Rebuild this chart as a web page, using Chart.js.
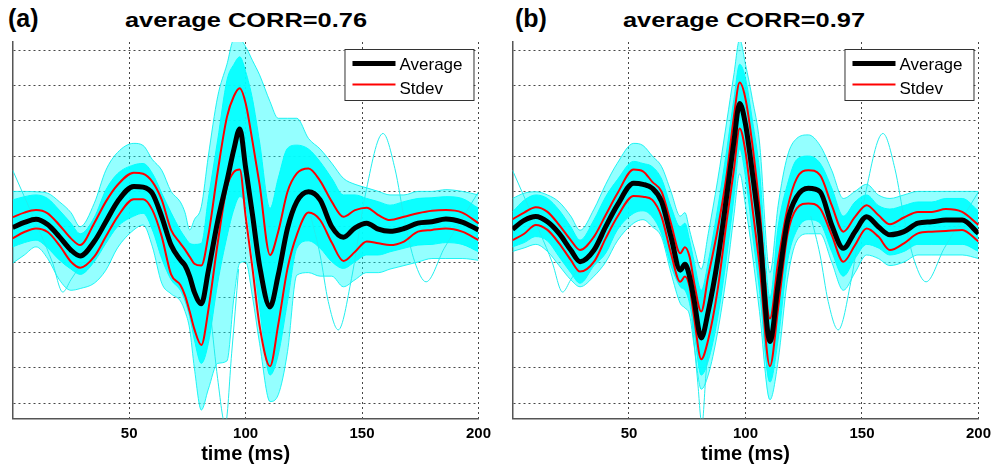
<!DOCTYPE html>
<html>
<head>
<meta charset="utf-8">
<script src="https://cdn.jsdelivr.net/npm/chart.js@4.4.0/dist/chart.umd.min.js"></script>
<style>
  body { margin:0; background:#fff; width:997px; height:468px; overflow:hidden; position:relative;
         font-family: Arial, "Liberation Sans", sans-serif; }
  .panel { position:absolute; top:0; }
  .tag { position:absolute; top:6px; font-size:25px; font-weight:bold; line-height:1; }
  .ttl { position:absolute; top:10px; width:300px; text-align:center; font-size:20px; font-weight:bold;
         line-height:1; white-space:nowrap; transform:scaleX(1.27); transform-origin:center; }
</style>
</head>
<body>
<div class="tag" style="left:8px">(a)</div>
<div class="ttl" style="left:96px">average CORR=0.76</div>
<div class="tag" style="left:515px">(b)</div>
<div class="ttl" style="left:594px">average CORR=0.97</div>
<canvas id="chartA" class="panel" style="left:0" width="497" height="468"></canvas>
<canvas id="chartB" class="panel" style="left:497px" width="500" height="468"></canvas>
<script>
// --- time axis (ms), shared by both panels ---
const timeMs = [0,5,10,15,20,25,29,35,40,45,52,56,60,64,68,72,74,76,78,81,84,88,92,95,97.5,100,103,106,110.5,114,118,122,127,132,137,142,147,152,157,162,168,174,180,186,193,200];
const xTicks = [50, 100, 150, 200];

// --- panel (a) ---
const avgA   = [-0.02,0.12,0.21,0.06,-0.28,-0.66,-0.83,-0.42,0.14,0.71,1.14,1.12,0.94,0.28,-0.52,-0.94,-1.1,-1.41,-1.85,-2.18,-1.25,0.15,1.3,2.2,2.77,1.68,0.32,-1.1,-2.27,-1.37,-0.05,0.71,0.99,0.76,0.0,-0.3,-0.03,0.1,-0.07,-0.13,-0.05,0.1,0.14,0.22,0.13,-0.09];
const stdHiA = [0.27,0.4,0.47,0.38,0.05,-0.33,-0.52,0.1,0.71,1.18,1.53,1.5,1.27,0.76,-0.09,-0.47,-0.65,-0.85,-1.05,-1.1,-0.25,1.55,3.11,3.7,3.92,3.5,2.4,1.2,-0.8,-0.14,0.99,1.51,1.65,1.3,0.71,0.28,0.47,0.54,0.33,0.19,0.28,0.38,0.45,0.47,0.4,0.1];
const stdLoA = [-0.33,-0.15,-0.05,-0.15,-0.52,-0.99,-1.16,-0.85,-0.28,0.28,0.78,0.78,0.47,-0.28,-1.35,-1.65,-1.95,-2.4,-2.9,-3.35,-2.36,-0.47,1.13,1.55,1.62,0.3,-1.2,-2.8,-3.95,-2.78,-1.18,-0.23,0.4,0.19,-0.45,-0.97,-0.71,-0.42,-0.47,-0.52,-0.42,-0.14,-0.09,-0.05,-0.14,-0.38];
const denseHiA = [0.76,0.85,0.9,0.8,0.47,0.1,-0.2,0.26,1.04,1.5,1.75,1.79,1.51,0.95,0.4,-0.1,-0.3,-0.47,-0.5,-0.47,0.8,2.45,4.15,4.6,4.81,4.4,3.6,2.4,0.52,1.37,2.22,2.31,2.2,1.84,1.37,0.9,0.9,0.8,0.71,0.61,0.71,0.8,0.82,0.85,0.8,0.52];
const denseLoA = [-0.57,-0.45,-0.38,-0.6,-0.94,-1.2,-1.35,-0.99,-0.47,0.0,0.3,0.38,-0.09,-0.9,-1.5,-1.8,-2.1,-2.55,-3.2,-3.87,-3.3,-1.6,-0.28,0.5,0.85,0.6,-0.8,-2.3,-4.2,-3.63,-2.12,-0.61,-0.4,-0.61,-0.99,-1.18,-0.99,-0.8,-0.8,-0.71,-0.61,-0.52,-0.5,-0.45,-0.5,-0.71];
const outerHiA = [1.0,1.0,0.99,0.95,0.71,0.4,0.0,0.66,1.6,2.1,2.36,2.3,1.9,1.6,1.0,0.7,0.4,-0.09,0.2,0.57,2.0,3.68,4.6,5.3,5.3,5.1,4.7,4.3,3.54,3.07,3.07,3.07,2.5,2.2,1.8,1.37,1.2,1.1,1.0,0.9,0.9,1.0,1.0,1.05,1.0,0.9];
const outerLoA = [-1.03,-0.8,-0.57,-0.9,-1.5,-1.8,-1.75,-1.6,-1.23,-0.6,-0.09,0.05,-0.57,-1.6,-1.9,-2.1,-2.4,-2.9,-4.0,-5.19,-4.6,-3.87,-3.8,-2.0,-1.03,-0.99,-2.0,-3.3,-4.95,-4.76,-3.54,-1.37,-1.3,-1.4,-1.4,-1.7,-1.5,-1.3,-1.3,-1.2,-1.1,-1.0,-0.9,-0.9,-0.9,-0.95];
const dipTimesA = [85, 88, 91.3, 94, 97];
const dipA      = [-2.5, -4.3, -5.6, -3.6, -1.2];

// --- panel (b) ---
const avgB   = [-0.07,0.18,0.29,0.14,-0.19,-0.66,-0.99,-0.66,0.0,0.61,1.23,1.2,1.09,0.71,-0.28,-1.23,-1.06,-1.41,-2.1,-3.15,-2.4,-0.97,0.9,2.4,3.49,2.9,1.5,-0.1,-3.25,-1.65,0.14,0.85,1.09,0.99,0.05,-0.61,-0.14,0.28,0.0,-0.23,-0.14,0.1,0.14,0.19,0.19,-0.19];
const stdHiB = [0.21,0.4,0.55,0.42,0.05,-0.38,-0.66,-0.28,0.33,0.94,1.62,1.57,1.27,0.99,0.1,-0.75,-0.58,-0.85,-1.6,-2.4,-1.4,-0.1,1.5,3.1,4.08,3.62,2.3,0.55,-2.6,-0.99,0.52,1.37,1.6,1.46,0.61,-0.14,0.28,0.61,0.33,0.07,0.26,0.42,0.42,0.5,0.42,0.05];
const stdLoB = [-0.38,-0.2,0.05,-0.09,-0.47,-0.94,-1.27,-0.99,-0.33,0.28,0.87,0.85,0.76,0.28,-0.75,-1.56,-1.41,-1.7,-2.6,-3.75,-3.2,-1.8,0.2,1.6,2.78,2.12,0.52,-1.08,-3.95,-2.31,-0.23,0.52,0.66,0.52,-0.23,-0.99,-0.52,-0.05,-0.28,-0.66,-0.47,-0.19,-0.14,-0.12,-0.09,-0.42];
const denseHiB = [0.42,0.75,0.9,0.8,0.47,0.0,-0.38,0.2,0.85,1.33,1.85,1.79,1.7,1.35,0.57,0.0,0.1,-0.38,-1.0,-1.8,-1.0,0.5,2.2,3.6,4.6,4.2,3.0,1.6,-2.0,0.0,1.2,1.9,2.0,1.8,1.1,0.3,0.7,0.9,0.6,0.5,0.6,0.7,0.7,0.8,0.8,0.45];
const denseLoB = [-0.57,-0.45,-0.28,-0.4,-0.85,-1.3,-1.6,-1.1,-0.75,-0.09,0.38,0.45,0.28,-0.2,-1.1,-1.7,-1.8,-2.17,-3.0,-4.2,-3.8,-2.6,-0.8,0.8,2.2,1.4,-0.2,-1.8,-4.4,-3.2,-1.0,-0.1,0.2,0.1,-0.7,-1.4,-0.9,-0.5,-0.6,-0.8,-0.7,-0.5,-0.5,-0.5,-0.5,-0.7];
const outerHiB = [0.8,0.95,0.99,0.9,0.7,0.3,-0.1,0.5,1.2,1.8,2.36,2.3,2.0,1.7,1.0,0.3,0.4,-0.1,-0.6,-1.2,-0.2,1.3,3.0,4.3,5.3,4.6,3.6,2.4,-1.3,0.6,2.0,2.5,2.6,2.3,1.6,0.8,1.0,1.2,0.9,0.8,0.9,1.0,1.0,1.0,1.0,1.0];
const outerLoB = [-0.7,-0.6,-0.5,-0.7,-1.1,-1.5,-1.7,-1.4,-1.0,-0.4,0.1,0.2,0.0,-0.3,-1.3,-2.17,-2.3,-2.5,-3.4,-4.6,-4.2,-3.0,-1.3,0.3,1.5,0.6,-0.8,-2.4,-4.9,-3.8,-1.5,-0.4,-0.2,-0.2,-1.0,-1.8,-1.3,-0.8,-0.9,-1.1,-1.0,-0.8,-0.8,-0.8,-0.8,-0.9];
const dipTimesB = [77, 79.5, 81.3, 83, 85];
const dipB      = [-2.6, -4.4, -5.6, -4.2, -2.6];

// --- single trials that stand out (same in both panels) ---
const earlyTimes = [0, 4, 8, 12, 17, 21.5, 25, 30];
const earlyTrial = [1.6, 1.0, 0.4, -0.2, -1.0, -1.85, -1.5, -1.0];
const lateTimes  = [128, 132, 135.5, 139.8, 145.5, 151.4, 159, 164.1, 168.4, 172.6, 177.5, 185.3, 193.9, 200];
const lateTrial  = [0.3, -0.8, -2.12, -2.92, -1.46, 0.9, 2.64, 1.65, 0.14, -0.99, -1.56, -0.61, 0.33, 0.99];

Chart.defaults.font.family = 'Arial, "Liberation Sans", sans-serif';

const pts = (xs, ys) => xs.map((x, i) => ({ x: x, y: ys[i] }));

// legend box drawn in the upper right corner of the plot
const legendBox = {
  id: 'legendBox',
  afterDraw(chart) {
    const { ctx, chartArea } = chart;
    const items = chart.data.datasets.filter(d => d.inLegend);
    const w = 129, h = 51;
    const x = chartArea.right - 5 - w, y = chartArea.top + 7;
    ctx.save();
    ctx.fillStyle = '#fff';
    ctx.fillRect(x, y, w, h);
    ctx.strokeStyle = '#333';
    ctx.lineWidth = 1;
    ctx.strokeRect(x + 0.5, y + 0.5, w, h);
    items.forEach((d, i) => {
      const ly = y + 14.5 + i * 21;
      ctx.strokeStyle = d.borderColor;
      ctx.lineWidth = d.borderWidth;
      ctx.beginPath();
      ctx.moveTo(x + 8, ly);
      ctx.lineTo(x + 51, ly);
      ctx.stroke();
      ctx.fillStyle = '#000';
      ctx.font = '17px Arial, "Liberation Sans", sans-serif';
      ctx.textBaseline = 'alphabetic';
      ctx.fillText(d.label, x + 55, y + 21 + i * 24);
    });
    ctx.restore();
  }
};

function makePanel(id, pad, d) {
  const line = (data, color, width, order, extra) => Object.assign({
    data: data, borderColor: color, borderWidth: width, order: order,
    pointRadius: 0, cubicInterpolationMode: 'monotone', fill: false
  }, extra || {});

  return new Chart(document.getElementById(id), {
    type: 'line',
    data: {
      datasets: [
        line(pts(timeMs, d.avg), '#000', 5, 0, { label: 'Average', inLegend: true }),
        line(pts(timeMs, d.hi), '#ff0000', 2, 1, { label: 'Stdev', inLegend: true }),
        line(pts(timeMs, d.lo), '#ff0000', 2, 1),
        line(pts(timeMs, d.outerHi), 'rgba(0,240,240,0.85)', 1, 5, { fill: '+1', backgroundColor: 'rgba(0,255,255,0.42)' }),
        line(pts(timeMs, d.outerLo), 'rgba(0,240,240,0.85)', 1, 5),
        line(pts(timeMs, d.denseHi), '#00ffff', 1, 4, { fill: '+1', backgroundColor: 'rgba(0,255,255,0.92)' }),
        line(pts(timeMs, d.denseLo), '#00ffff', 1, 4),
        line(pts(lateTimes, lateTrial), '#22eeee', 1, 3),
        line(pts(earlyTimes, earlyTrial), '#22eeee', 1, 3),
        line(pts(d.dipT, d.dip), '#22eeee', 1, 3)
      ]
    },
    options: {
      responsive: false,
      animation: false,
      events: [],
      layout: { padding: pad },
      plugins: { legend: { display: false }, tooltip: { enabled: false }, title: { display: false } },
      scales: {
        x: {
          type: 'linear', min: 0, max: 200,
          afterBuildTicks: s => { s.ticks = [0].concat(xTicks).map(v => ({ value: v })); },
          afterFit: s => { s.height = 48; },
          ticks: {
            callback: v => (v === 0 ? '' : v),
            color: '#000', font: { size: 15, weight: 'bold' }, padding: 6,
            maxRotation: 0, autoSkip: false
          },
          grid: { color: 'rgba(0,0,0,0.72)', lineWidth: 1, drawTicks: false },
          border: { display: true, color: '#555', width: 1.5, dash: [2, 3] },
          title: { display: true, text: 'time (ms)', color: '#000',
                   font: { size: 20, weight: 'bold' }, padding: { top: 0, bottom: 0 } }
        },
        y: {
          min: -5.43, max: 5.23,
          afterFit: s => { s.width = 0; },
          ticks: { display: false, stepSize: 1, includeBounds: false },
          grid: { color: 'rgba(0,0,0,0.72)', lineWidth: 1, drawTicks: false },
          border: { display: true, color: '#555', width: 1.5, dash: [2, 3] }
        }
      }
    },
    plugins: [legendBox]
  });
}

makePanel('chartA', { left: 12.7, right: 16, top: 42, bottom: 1.5 }, {
  avg: avgA, hi: stdHiA, lo: stdLoA,
  denseHi: denseHiA, denseLo: denseLoA, outerHi: outerHiA, outerLo: outerLoA,
  dipT: dipTimesA, dip: dipA
});
makePanel('chartB', { left: 15.5, right: 14.3, top: 42, bottom: 1.5 }, {
  avg: avgB, hi: stdHiB, lo: stdLoB,
  denseHi: denseHiB, denseLo: denseLoB, outerHi: outerHiB, outerLo: outerLoB,
  dipT: dipTimesB, dip: dipB
});
</script>
</body>
</html>
